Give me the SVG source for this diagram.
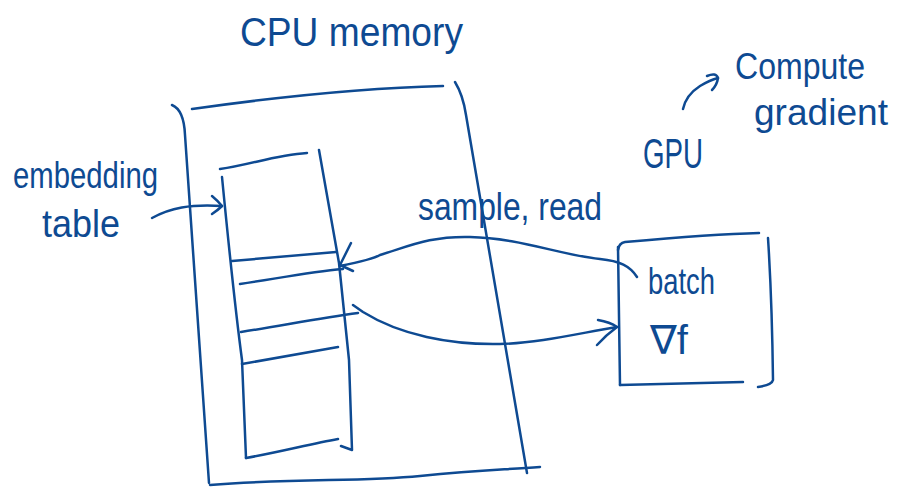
<svg xmlns="http://www.w3.org/2000/svg" width="898" height="487" viewBox="0 0 898 487">
<style>
.s{fill:none;stroke:#0e4a92;stroke-width:2.5;stroke-linecap:round;stroke-linejoin:round}
.t{fill:#0e4a92;font-family:"Liberation Sans","DejaVu Sans",sans-serif}
</style>
<rect width="898" height="487" fill="#ffffff"/>
<g id="cpu-memory">
<path class="s" d="M192,109 C270,98 360,88 443,86"/>
<path class="s" d="M172,105 Q184,110 185,135 L209,483"/>
<path class="s" d="M455,82 Q463,95 466,115 L527,473"/>
<path class="s" d="M210,485 C300,478 360,482 420,476 S500,470 540,467"/>
<text class="t" x="240" y="46" font-size="40" textLength="223" lengthAdjust="spacingAndGlyphs">CPU memory</text>
</g>
<g id="embedding-table">
<path class="s" d="M220,169 C250,165 275,155 307,153"/>
<path class="s" d="M222,177 Q234,300 242,360 L246,458"/>
<path class="s" d="M319,150 L339,263 L349,360 L352,450 L341,446"/>
<path class="s" d="M246,458 C280,452 310,444 338,439"/>
<path class="s" d="M232,261 L336,252"/>
<path class="s" d="M240,284 C280,278 310,272 343,269"/>
<path class="s" d="M241,332 C280,326 320,318 358,313"/>
<path class="s" d="M242,364 C280,357 310,352 338,347"/>
<text class="t" x="13" y="188" font-size="36" textLength="145" lengthAdjust="spacingAndGlyphs">embedding</text>
<text class="t" x="42" y="237" font-size="38" textLength="78" lengthAdjust="spacingAndGlyphs">table</text>
</g>
<g id="gpu">
<path class="s" d="M618,250 Q619,243 625,242 C670,238 720,234 759,233"/>
<path class="s" d="M618,247 L620,385"/>
<path class="s" d="M620,385 L743,382"/>
<path class="s" d="M768,238 Q772,300 773,380 Q772,385 758,387"/>
<text class="t" x="643" y="168" font-size="42" textLength="60" lengthAdjust="spacingAndGlyphs">GPU</text>
<text class="t" x="648" y="294" font-size="36" textLength="67" lengthAdjust="spacingAndGlyphs">batch</text>
<text class="t" x="650" y="354" font-size="40">∇f</text>
</g>
<g id="compute-gradient">
<text class="t" x="735" y="79" font-size="36" textLength="130" lengthAdjust="spacingAndGlyphs">Compute</text>
<text class="t" x="754" y="125" font-size="37" textLength="134" lengthAdjust="spacingAndGlyphs">gradient</text>
</g>
<g id="connectors">
<path class="s" d="M152,218 C170,208 190,204 222,206"/>
<path class="s" d="M212,196 Q218,201 222,206 Q218,210 212,214"/>
<path class="s" d="M340,266 C360,262 375,258 380,255 C410,246 430,236 470,237 C520,238 560,255 600,259 C620,261 630,266 637,277"/>
<path class="s" d="M351,243 L340,265 L353,271"/>
<path class="s" d="M353,305 L363,312 C400,335 450,345 500,344 C540,343 580,333 617,327"/>
<path class="s" d="M598,320 Q610,322 617,327 Q606,335 597,345"/>
<path class="s" d="M683,109 Q686,95 700,86 Q710,80 718,78"/>
<path class="s" d="M707,76 Q716,72 718,78 Q717,85 712,90"/>
<text class="t" x="418" y="220" font-size="38" textLength="184" lengthAdjust="spacingAndGlyphs">sample, read</text>
</g>
</svg>
